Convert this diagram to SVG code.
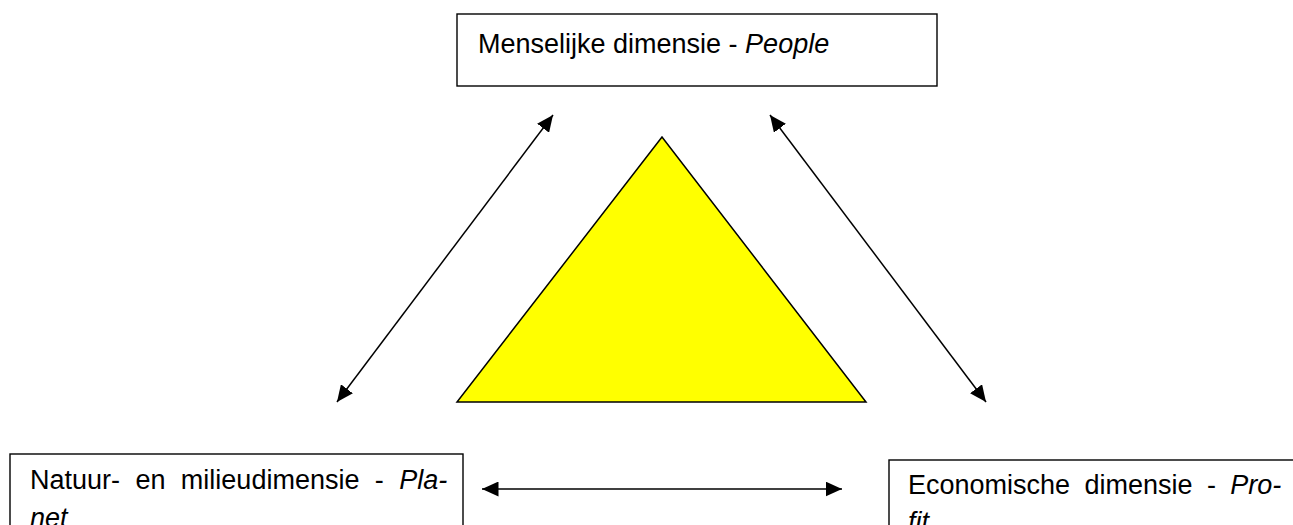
<svg xmlns="http://www.w3.org/2000/svg" width="1293" height="525" viewBox="0 0 1293 525">
<style>
.box{fill:#fff;stroke:#000;stroke-width:1.4}
.t{font-family:"Liberation Sans",Arial,sans-serif;font-size:27px;fill:#000}
.i{font-style:italic}
.c{stroke:#000;stroke-width:1.5;fill:none;marker-start:url(#ah);marker-end:url(#ah)}
</style>
<defs>
<marker id="ah" markerUnits="userSpaceOnUse" markerWidth="17" markerHeight="15" refX="16.5" refY="7.5" orient="auto-start-reverse">
<path d="M0,0 L16.5,7.5 L0,15 z" fill="#000"/>
</marker>
</defs>
<rect width="1293" height="525" fill="#fff"/>
<g id="triangle">
<polygon points="662,137 457,402 866,402" fill="#ffff00" stroke="#000" stroke-width="1.5"/>
</g>
<g id="people">
<rect class="box" x="457" y="14" width="480" height="72"/>
<text class="t" x="478" y="53">Menselijke dimensie - <tspan class="i">People</tspan></text>
</g>
<g id="planet">
<rect class="box" x="10" y="454" width="453" height="90"/>
<text class="t" x="30" y="489" word-spacing="7.9">Natuur- en milieudimensie - <tspan class="i">Pla-</tspan></text>
<text class="t i" x="30" y="527">net</text>
</g>
<g id="profit">
<rect class="box" x="889" y="460" width="420" height="90"/>
<text class="t" x="908" y="494" word-spacing="6.9">Economische dimensie - <tspan class="i">Pro-</tspan></text>
<text class="t i" x="908" y="531">fit</text>
</g>
<g id="connectors">
<line class="c" x1="553" y1="115" x2="337" y2="402"/>
<line class="c" x1="770" y1="115" x2="986" y2="402"/>
<line class="c" x1="482" y1="489" x2="842" y2="489"/>
</g>
</svg>
